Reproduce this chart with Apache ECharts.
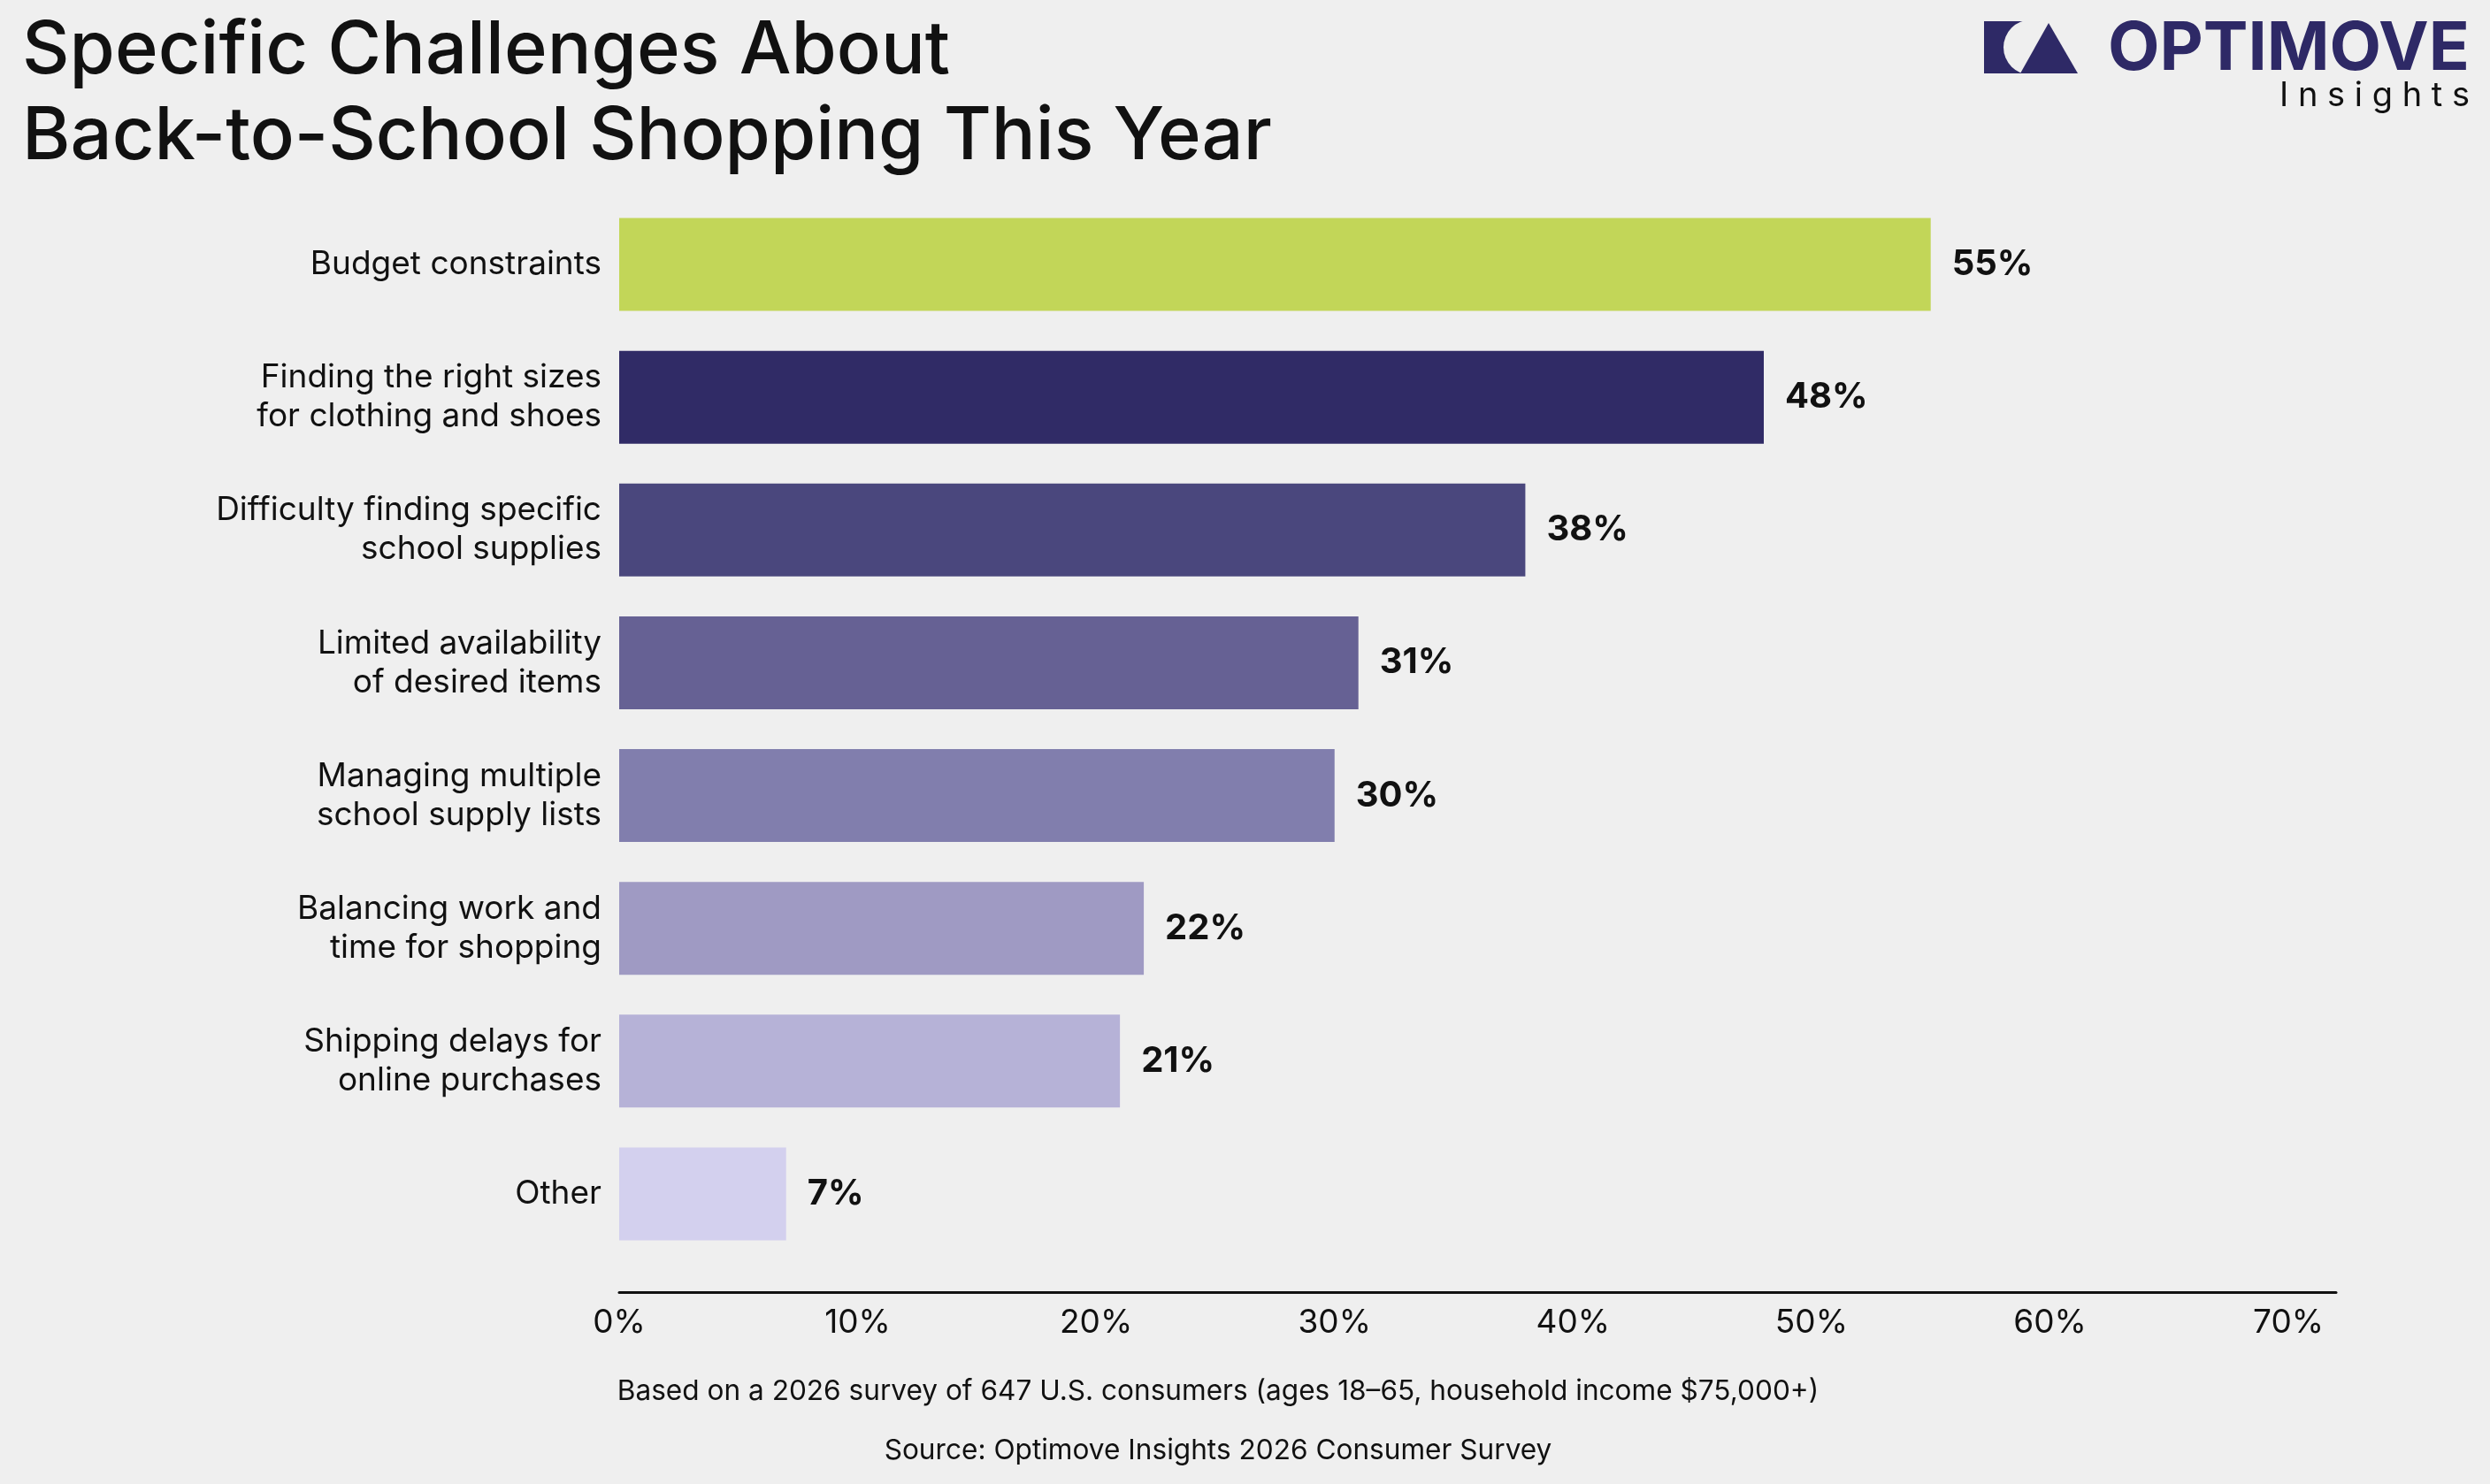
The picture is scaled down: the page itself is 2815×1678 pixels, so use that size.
<!DOCTYPE html>
<html>
<head>
<meta charset="utf-8">
<title>Specific Challenges About Back-to-School Shopping This Year</title>
<script src="https://cdn.jsdelivr.net/npm/echarts@6/dist/echarts.min.js"></script>
<style>
  html, body { margin: 0; padding: 0; background: #efefef; }
  #chart { width: 2815px; height: 1678px; }
</style>
</head>
<body>
<div id="chart"></div>
<script>
// data
const categories = [
  'Budget constraints',
  'Finding the right sizes\nfor clothing and shoes',
  'Difficulty finding specific\nschool supplies',
  'Limited availability\nof desired items',
  'Managing multiple\nschool supply lists',
  'Balancing work and\ntime for shopping',
  'Shipping delays for\nonline purchases',
  'Other'
];
const values = [55, 48, 38, 31, 30, 22, 21, 7];
const barColors = ['#c2d658', '#302b66', '#4a477d', '#666194', '#817ead', '#9f9ac3', '#b6b2d7', '#d3d0ee'];
const xTicks = [0, 10, 20, 30, 40, 50, 60, 70];

const FONT = 'Inter, "Noto Sans", sans-serif';
const BG = '#efefef';
const NAVY = '#2e2966';

const chart = echarts.init(document.getElementById('chart'), null, { renderer: 'canvas' });

const option = {
  backgroundColor: BG,
  animation: false,
  textStyle: { fontFamily: FONT },
  title: {
    text: 'Specific Challenges About\nBack-to-School Shopping This Year',
    left: 20,
    top: 5,
    textStyle: {
      fontFamily: FONT,
      fontSize: 83,
      fontWeight: 500,
      lineHeight: 97,
      color: '#111'
    }
  },
  grid: {
    left: 700,
    right: 174,
    top: 224,
    bottom: 253,
    containLabel: false
  },
  xAxis: {
    type: 'value',
    min: 0,
    max: 72,
    interval: 10,
    offset: 36,
    axisLine: { show: true, lineStyle: { color: '#111', width: 3 } },
    axisTick: { show: false },
    splitLine: { show: false },
    axisLabel: {
      margin: 16,
      fontSize: 37,
      color: '#111',
      fontFamily: FONT,
      showMaxLabel: false,
      formatter: v => (xTicks.indexOf(v) >= 0 ? v + '%' : '')
    }
  },
  yAxis: {
    type: 'category',
    inverse: true,
    data: categories,
    axisLine: { show: false },
    axisTick: { show: false },
    axisLabel: {
      margin: 20,
      fontSize: 37,
      lineHeight: 44,
      // transparent box so the top padding nudges the text down a little
      backgroundColor: 'rgba(0,0,0,0)',
      padding: [18, 0, 0, 0],
      color: '#111',
      fontFamily: FONT,
      align: 'right'
    }
  },
  series: [{
    type: 'bar',
    barCategoryGap: '30%',
    data: values.map((v, i) => ({
      value: v,
      itemStyle: { color: barColors[i] }
    })),
    label: {
      show: true,
      position: 'right',
      distance: 24,
      formatter: '{c}%',
      fontSize: 40,
      fontWeight: 'bold',
      color: '#111',
      fontFamily: FONT
    }
  }],
  graphic: [
    // logo mark
    { type: 'rect', shape: { x: 2243, y: 24, width: 44, height: 59 }, style: { fill: NAVY } },
    { type: 'circle', shape: { cx: 2296, cy: 53.5, r: 31 }, style: { fill: BG } },
    { type: 'polygon', shape: { points: [[2284, 83], [2316, 26], [2349, 83]] }, style: { fill: NAVY } },
    {
      type: 'text', x: 2792, y: 56,
      style: {
        text: 'OPTIMOVE', fill: NAVY, font: 'bold 76px ' + FONT,
        textAlign: 'right', textVerticalAlign: 'middle'
      }
    },
    {
      type: 'text', x: 2792, y: 109,
      style: {
        text: 'I n s i g h t s', fill: '#111', font: '38px ' + FONT,
        textAlign: 'right', textVerticalAlign: 'middle'
      }
    },
    // footnotes
    {
      type: 'text', x: 1377, y: 1573,
      style: {
        text: 'Based on a 2026 survey of 647 U.S. consumers (ages 18\u201365, household income $75,000+)',
        fill: '#111', font: '31.6px ' + FONT,
        textAlign: 'center', textVerticalAlign: 'middle'
      }
    },
    {
      type: 'text', x: 1377, y: 1640,
      style: {
        text: 'Source: Optimove Insights 2026 Consumer Survey',
        fill: '#111', font: '31.6px ' + FONT,
        textAlign: 'center', textVerticalAlign: 'middle'
      }
    }
  ]
};

chart.setOption(option);
</script>
</body>
</html>
